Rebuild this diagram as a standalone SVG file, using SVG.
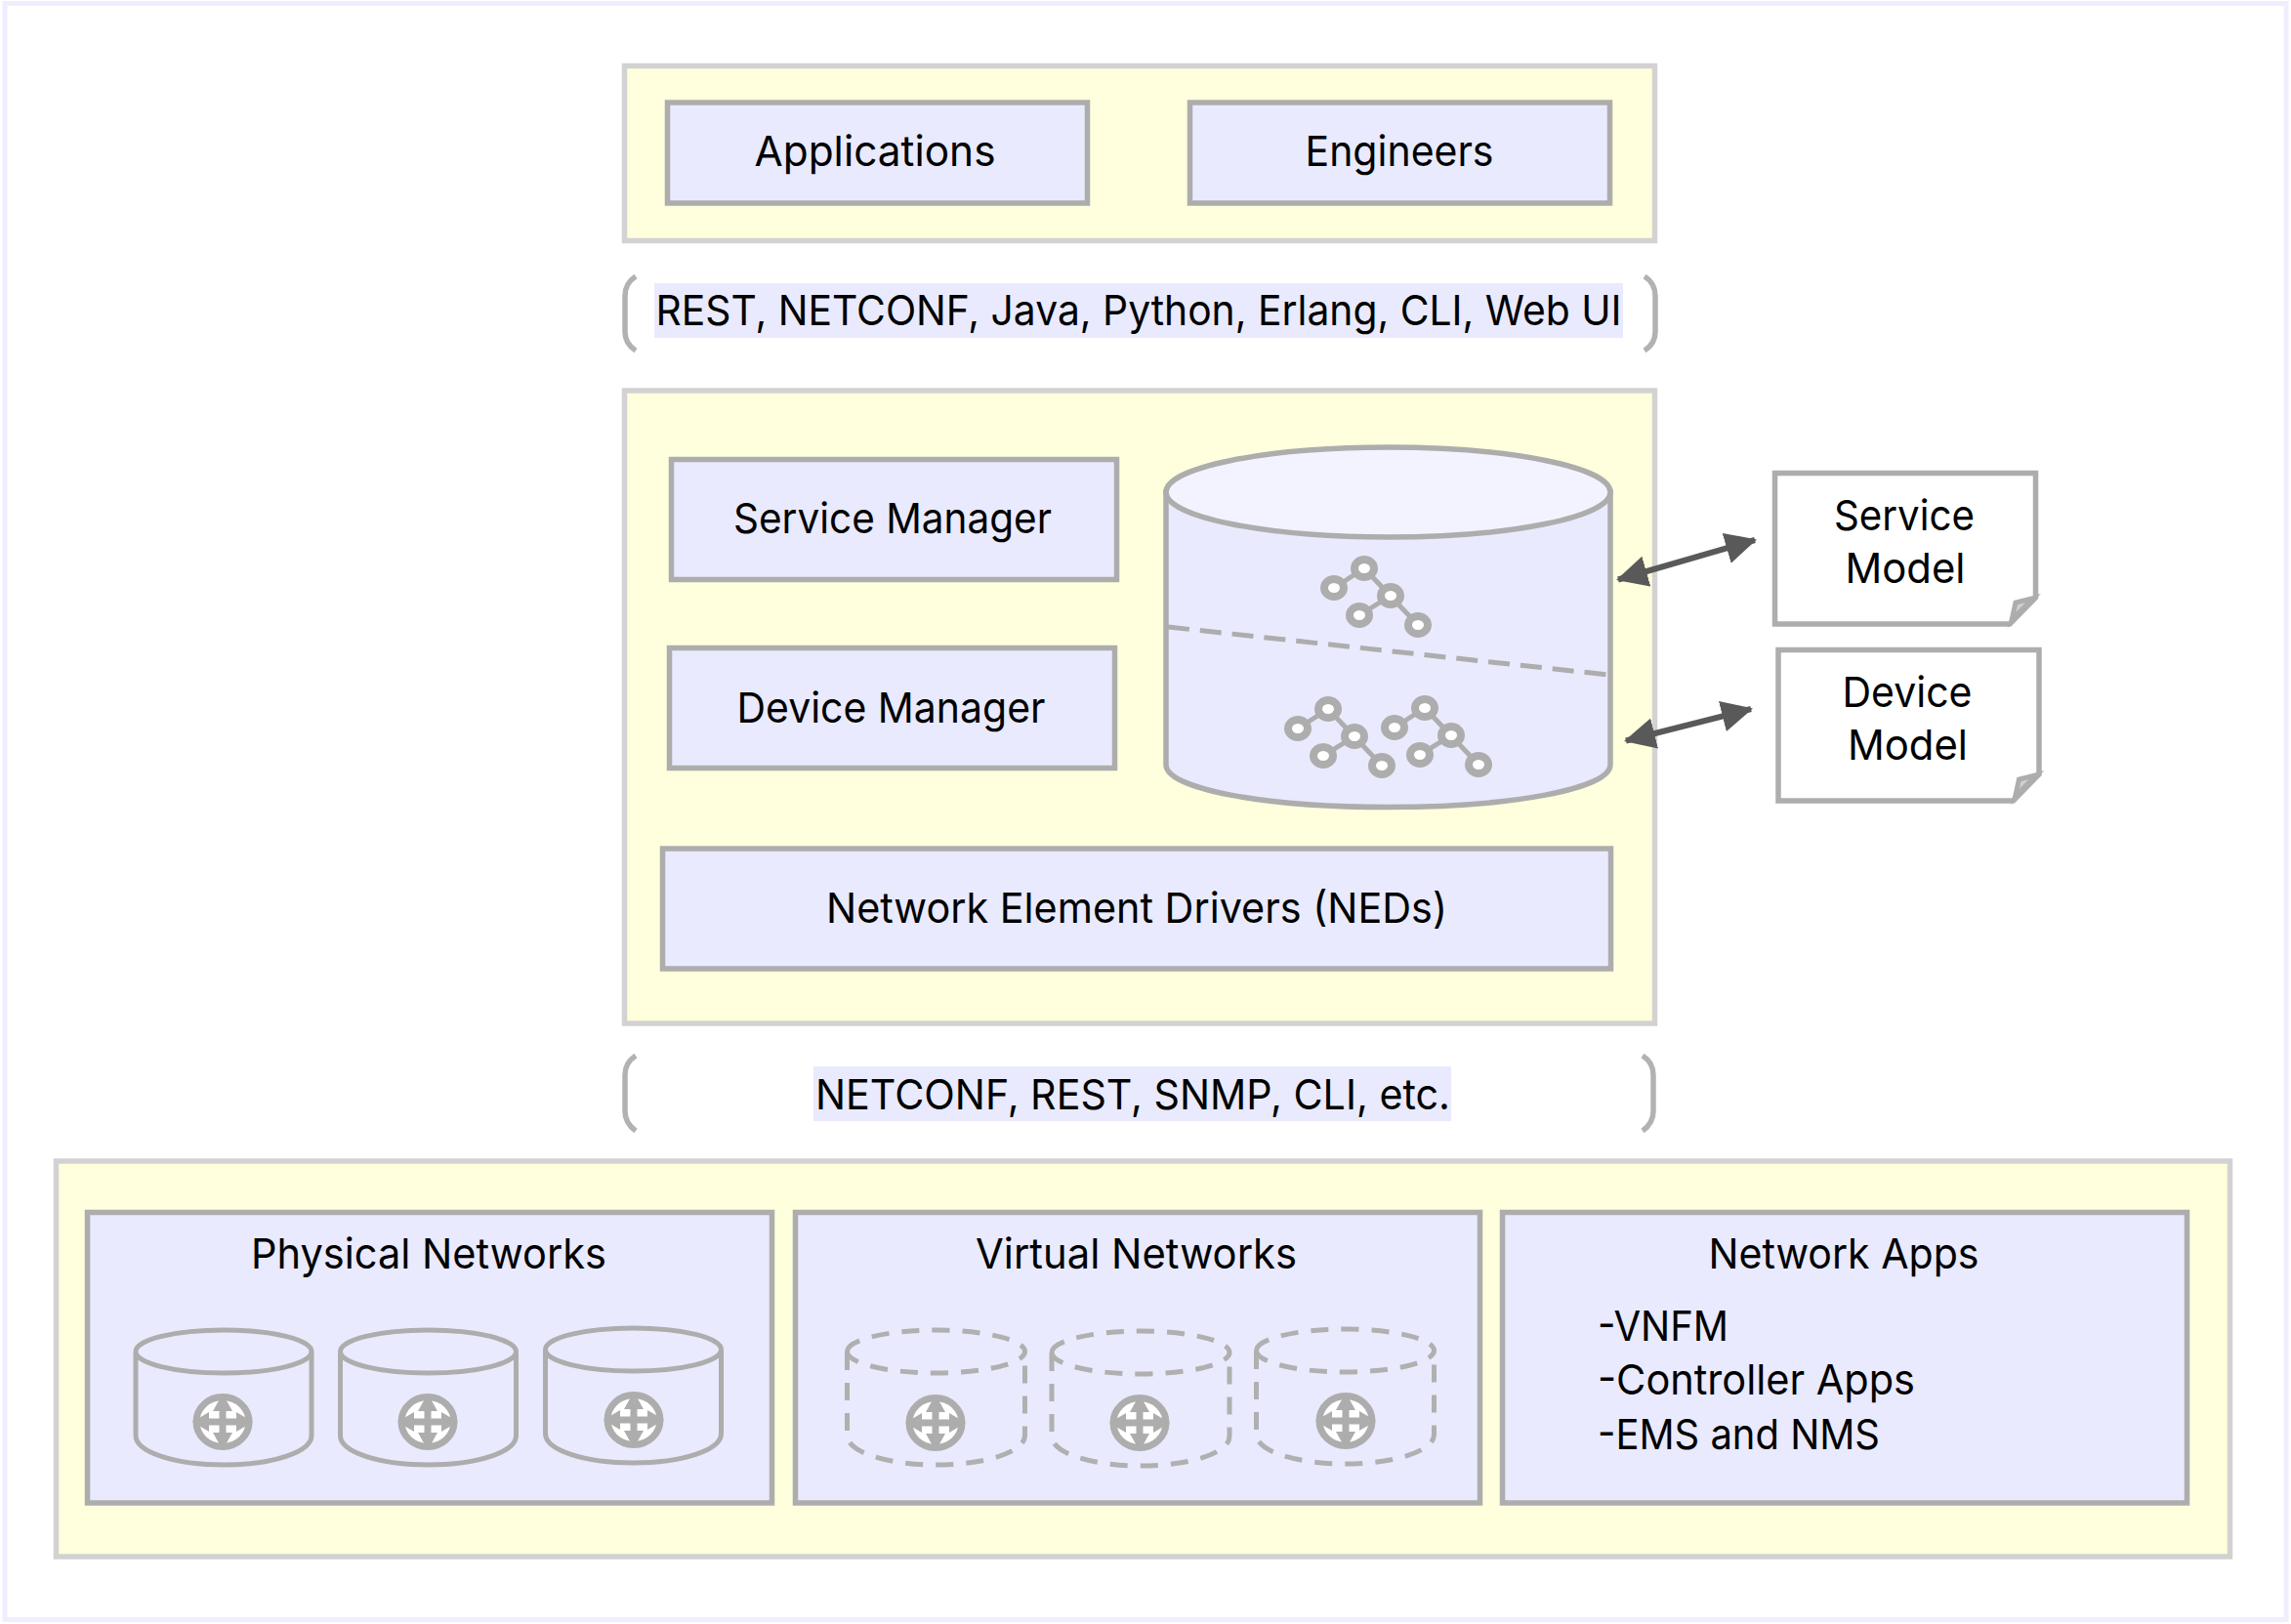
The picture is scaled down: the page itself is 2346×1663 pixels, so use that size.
<svg xmlns="http://www.w3.org/2000/svg" width="2346" height="1663" viewBox="0 0 2346 1663">
<style>
text{font-family:"Inter","Liberation Sans",sans-serif;font-size:43px;fill:#000;text-anchor:middle}
.l{text-anchor:start}
.outer{fill:#ffffdd;stroke:#d2d2d2;stroke-width:5.500}
.box{fill:#e9eafd;stroke:#adadad;stroke-width:5.500}
.bg{fill:#e9eafd}
.br{fill:none;stroke:#b2b2b2;stroke-width:5.500}
.ln{fill:none;stroke:#adadad;stroke-width:5}
.dash{fill:none;stroke:#b0b0b0;stroke-width:5;stroke-dasharray:18 13}
.split{stroke:#adadad;stroke-width:5;stroke-dasharray:22 11}
.note{fill:#fff;stroke:#adadad;stroke-width:5.500}
.fold{fill:#cfcfcf;stroke:#adadad;stroke-width:5;stroke-linejoin:miter}
.tree line{stroke:#adadad;stroke-width:5}
.tree ellipse{fill:#fff;stroke:#adadad;stroke-width:8}
.conn{stroke:#595959;stroke-width:6;fill:none;marker-start:url(#ah);marker-end:url(#ah)}
</style>
<defs>
<marker id="ah" markerUnits="userSpaceOnUse" markerWidth="34" markerHeight="34" refX="30" refY="16" orient="auto-start-reverse"><path d="M0,0L32,16L0,32Z" fill="#595959"/></marker>
<g id="router">
<ellipse rx="27" ry="25.500" fill="#fff" stroke="#adadad" stroke-width="7"/>
<path d="M-3.500,-3.500V-11H-10L0,-29L10,-11H3.500V-3.500H14V-10L31,0L14,10V3.500H3.500V11H10L0,29L-10,11H-3.500V3.500H-14V10L-31,0L-14,-10V-3.500Z" fill="#adadad"/>
</g>
<g id="tree" class="tree">
<line x1="-31" y1="20" x2="0" y2="0"/><line x1="0" y1="0" x2="55" y2="58"/><line x1="27" y1="28" x2="-5" y2="48"/>
<ellipse cx="0" cy="0" rx="10" ry="9"/><ellipse cx="-31" cy="20" rx="10" ry="9"/><ellipse cx="27" cy="28" rx="10" ry="9"/><ellipse cx="-5" cy="48" rx="10" ry="9"/><ellipse cx="55" cy="58" rx="10" ry="9"/>
</g>
<g id="cyl">
<path class="ln" d="M-90,-90V-5C-90,12 -50,25 0,25C50,25 90,12 90,-5V-90"/>
<ellipse class="ln" cx="0" cy="-91" rx="90" ry="22"/>
</g>
<g id="cyld">
<path class="dash" d="M-91,-90V-5C-91,12 -50,25 0,25C50,25 91,12 91,-5V-90"/>
<path class="dash" d="M-91,-91C-91,-103 -50,-113 0,-113C50,-113 91,-103 91,-91C91,-79 50,-69 0,-69C-50,-69 -91,-79 -91,-91Z"/>
</g>
</defs>
<rect width="2346" height="1663" fill="#fff"/>
<rect id="frame" x="5" y="3.500" width="2336" height="1655" fill="#fff" stroke="#eeeeff" stroke-width="5"/>

<g id="top-layer">
<rect class="outer" x="639.500" y="67.500" width="1055" height="179"/>
</g>
<g id="applications"><rect class="box" x="683.500" y="105" width="430" height="103"/><text x="896" y="170" textLength="247" lengthAdjust="spacingAndGlyphs">Applications</text></g>
<g id="engineers"><rect class="box" x="1218.500" y="105" width="430" height="103"/><text x="1433" y="170" textLength="193" lengthAdjust="spacingAndGlyphs">Engineers</text></g>

<g id="northbound">
<path class="br" d="M651,283Q640,290 640,303V340Q640,352 651,359"/>
<path class="br" d="M1684,283Q1695,290 1695,303V340Q1695,352 1684,359"/>
<rect class="bg" x="670" y="290" width="992" height="56"/>
<text x="1166" y="333" textLength="989" lengthAdjust="spacingAndGlyphs">REST, NETCONF, Java, Python, Erlang, CLI, Web UI</text>
</g>

<g id="nso"><rect class="outer" x="639.500" y="400" width="1055" height="648"/></g>
<g id="service-manager"><rect class="box" x="687.500" y="470.500" width="456" height="123"/><text x="914" y="546" textLength="326" lengthAdjust="spacingAndGlyphs">Service Manager</text></g>
<g id="device-manager"><rect class="box" x="685.500" y="663.500" width="456" height="123"/><text x="912.500" y="740" textLength="316" lengthAdjust="spacingAndGlyphs">Device Manager</text></g>
<g id="neds"><rect class="box" x="678.500" y="869" width="971" height="123"/><text x="1164" y="945" textLength="636" lengthAdjust="spacingAndGlyphs">Network Element Drivers (NEDs)</text></g>

<g id="cdb">
<path d="M1194,504V783C1194,808 1295,826.500 1421,826.500C1547,826.500 1649,808 1649,783V504Z" fill="#e9eafd" stroke="#adadad" stroke-width="5.500"/>
<ellipse cx="1421.500" cy="504" rx="227.500" ry="46" fill="#f3f3ff" stroke="#adadad" stroke-width="5.500"/>
<line class="split" x1="1196" y1="642" x2="1647" y2="691"/>
<use href="#tree" x="1397" y="582"/>
<use href="#tree" x="1360" y="726"/>
<use href="#tree" x="1459" y="725"/>
</g>

<g id="service-model">
<path class="note" d="M1817.500,484.500H2084.500V612L2058,639H1817.500Z"/>
<path class="fold" d="M2060,635L2064,617L2082,612.500Z"/>
<text x="1950" y="543" textLength="144" lengthAdjust="spacingAndGlyphs">Service</text>
<text x="1951" y="597" textLength="123" lengthAdjust="spacingAndGlyphs">Model</text>
</g>
<g id="device-model">
<path class="note" d="M1821,665.500H2088V793L2061.500,820H1821Z"/>
<path class="fold" d="M2063.500,816L2067.500,798L2085.500,793.500Z"/>
<text x="1953" y="724" textLength="133" lengthAdjust="spacingAndGlyphs">Device</text>
<text x="1953.500" y="778" textLength="123" lengthAdjust="spacingAndGlyphs">Model</text>
</g>

<g id="connectors">
<line class="conn" x1="1657" y1="593.500" x2="1797" y2="553"/>
<line class="conn" x1="1665" y1="758.500" x2="1793" y2="726"/>
</g>

<g id="southbound">
<path class="br" d="M651,1081Q640,1088 640,1101V1138Q640,1150 651,1158"/>
<path class="br" d="M1682,1081Q1693,1088 1693,1101V1138Q1693,1150 1682,1158"/>
<rect class="bg" x="833" y="1092" width="653" height="56"/>
<text x="1160" y="1136" textLength="650" lengthAdjust="spacingAndGlyphs">NETCONF, REST, SNMP, CLI, etc.</text>
</g>

<g id="network-layer"><rect class="outer" x="57.500" y="1189" width="2226" height="405"/></g>

<g id="physical-networks">
<rect class="box" x="89.500" y="1241.500" width="701" height="297.500"/>
<text x="439" y="1299" textLength="364" lengthAdjust="spacingAndGlyphs">Physical Networks</text>
<use href="#cyl" x="229" y="1475"/>
<use href="#cyl" x="438.500" y="1475"/>
<use href="#cyl" x="648.500" y="1473"/>
<use href="#router" x="228" y="1456"/>
<use href="#router" x="438" y="1456"/>
<use href="#router" x="649" y="1454"/>
</g>
<g id="virtual-networks">
<rect class="box" x="814.500" y="1241.500" width="701" height="297.500"/>
<text x="1163.500" y="1299" textLength="329" lengthAdjust="spacingAndGlyphs">Virtual Networks</text>
<use href="#cyld" x="958.500" y="1475"/>
<use href="#cyld" x="1168" y="1476"/>
<use href="#cyld" x="1377.500" y="1474"/>
<use href="#router" x="958" y="1457"/>
<use href="#router" x="1167" y="1457"/>
<use href="#router" x="1378" y="1455"/>
</g>
<g id="network-apps">
<rect class="box" x="1538.500" y="1241.500" width="701" height="297.500"/>
<text x="1888" y="1299" textLength="277" lengthAdjust="spacingAndGlyphs">Network Apps</text>
<text class="l" x="1636" y="1373" textLength="134" lengthAdjust="spacingAndGlyphs">-VNFM</text>
<text class="l" x="1636" y="1428" textLength="325" lengthAdjust="spacingAndGlyphs">-Controller Apps</text>
<text class="l" x="1636" y="1484" textLength="289" lengthAdjust="spacingAndGlyphs">-EMS and NMS</text>
</g>
</svg>
